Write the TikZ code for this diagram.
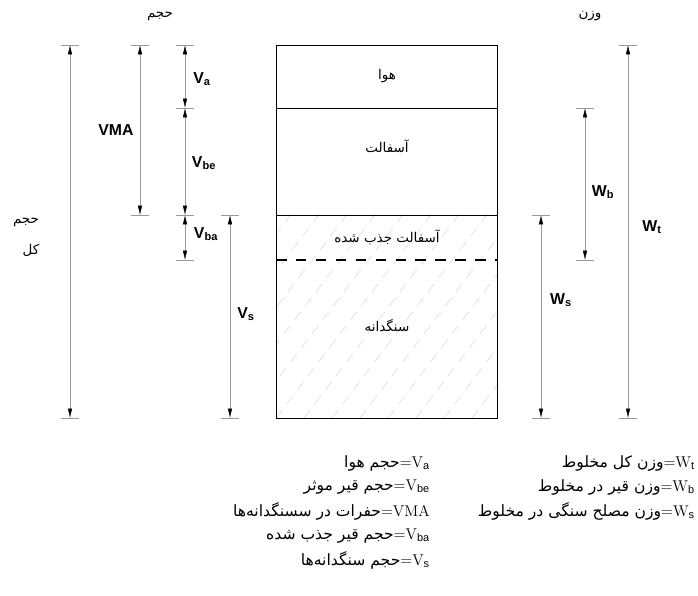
\documentclass[tikz,border=0pt]{standalone}
\usepackage{fontspec}
\newfontfamily\farsi[Script=Arabic]{DejaVu Sans}
\newfontfamily\labfont{Liberation Sans}
\TeXXeTstate=1
\usetikzlibrary{arrows.meta,calc}

\begin{document}
\begin{tikzpicture}[
		x=0.03cm, y=-0.03cm,
		dim/.style={
			draw=gray!80,
			thin,
			{Latex[black,length=8pt,width=3.8pt]}-{Latex[black,length=8pt,width=3.8pt]}
		},
		tick/.style={draw=gray!80, thin},
		lbl/.style={font=\labfont\bfseries\fontsize{13.5}{15}\selectfont, inner sep=1pt},
		fa/.style={font=\farsi\fontsize{11.5}{13}\selectfont, inner sep=1pt},
		legend/.style={font=\fontsize{13.3}{15}\selectfont, anchor=east, inner sep=0pt},
		hatch/.style={draw=gray!35, thin, dash pattern=on 9pt off 6pt}
		]
		
		\useasboundingbox (0,0) rectangle (698,596);
		
		% Layer levels of the sample
		\coordinate (tl) at (276,45);
		\coordinate (tr) at (497,45);
		\coordinate (al) at (276,108);
		\coordinate (ar) at (497,108);
		\coordinate (bl) at (276,215);
		\coordinate (br) at (497,215);
		\coordinate (dl) at (276,260);
		\coordinate (dr) at (497,260);
		\coordinate (sl) at (276,418);
		\coordinate (sr) at (497,418);
		
		% Hatching of the aggregate
		\begin{scope}
			\clip (bl) rectangle (sr);
			\foreach \i in {-200,-172,...,500}
			\draw[hatch] (\i,418) -- ++(160,-210);
		\end{scope}
		
		% Sample box
		\draw[thick] (tl) rectangle (sr);
		\draw (al) -- (ar);
		\draw (bl) -- (br);
		\draw[line width=1.3pt, dash pattern=on 9pt off 8pt] (dl) -- (dr);
		
		\node[fa] (air) at (387,76) {\beginR هوا\endR};
		\node[fa] (bit) at (387,146) {\beginR آسفالت\endR};
		\node[fa] (abs) at (387,237) {\beginR آسفالت جذب شده\endR};
		\node[fa] (agg) at (387,326) {\beginR سنگدانه\endR};
		
		% Volume side
		\coordinate (vt-t) at (70,45);
		\coordinate (vt-b) at (70,418);
		\coordinate (vma-t) at (140,45);
		\coordinate (vma-b) at (140,215);
		\coordinate (va-t) at (185,45);
		\coordinate (va-b) at (185,108);
		\coordinate (vbe-b) at (185,215);
		\coordinate (vba-b) at (185,260);
		\coordinate (vs-t) at (230,215);
		\coordinate (vs-b) at (230,418);
		
		\draw[dim] (vt-t) -- (vt-b);
		\draw[dim] (vma-t) -- (vma-b);
		\draw[dim] (va-t) -- (va-b);
		\draw[dim] (va-b) -- (vbe-b);
		\draw[dim] (vbe-b) -- (vba-b);
		\draw[dim] (vs-t) -- (vs-b);
		
		\node[fa] (vol) at (160,16) {\beginR حجم\endR};
		\node[fa] (vol2) at (26,222) {\beginR حجم\endR};
		\node[fa] (tot) at (31,250) {\beginR کل\endR};
		\node[lbl] (vma) at (116,130) {VMA};
		\node[lbl] (va) at (202,79) {V\textsubscript{a}};
		\node[lbl] (vbe) at (204,163) {V\textsubscript{be}};
		\node[lbl] (vba) at (206,234) {V\textsubscript{ba}};
		\node[lbl] (vs) at (246,314) {V\textsubscript{s}};
		
		% Weight side
		\coordinate (ws-t) at (541,215);
		\coordinate (ws-b) at (541,418);
		\coordinate (wb-t) at (585,108);
		\coordinate (wb-b) at (585,260);
		\coordinate (wt-t) at (628,45);
		\coordinate (wt-b) at (628,418);
		
		\draw[dim] (ws-t) -- (ws-b);
		\draw[dim] (wb-t) -- (wb-b);
		\draw[dim] (wt-t) -- (wt-b);
		
		\node[fa] (wgt) at (590,16) {\beginR وزن\endR};
		\node[lbl] (ws) at (561,300) {W\textsubscript{s}};
		\node[lbl] (wb) at (603,192) {W\textsubscript{b}};
		\node[lbl] (wt) at (652,227) {W\textsubscript{t}};
		
		% Ticks at the ends of the dimension lines
		\foreach \c in {vt-t,vt-b,vma-t,vma-b,va-t,va-b,vbe-b,vba-b,vs-t,vs-b,ws-t,ws-b,wb-t,wb-b,wt-t,wt-b}
		\draw[tick] ($(\c)+(-9,0)$) -- ($(\c)+(9,0)$);
		
		% Legend
		\node[legend] (l1) at (430,463) {{\farsi\beginR حجم هوا\endR}=V\textsubscript{\labfont a}};
		\node[legend] (l2) at (430,487) {{\farsi\beginR حجم قیر موثر\endR}=V\textsubscript{\labfont be}};
		\node[legend] (l3) at (430,511) {{\farsi\beginR حفرات در سسنگدانه‌ها\endR}=VMA};
		\node[legend] (l4) at (430,536) {{\farsi\beginR حجم قیر جذب شده\endR}=V\textsubscript{\labfont ba}};
		\node[legend] (l5) at (430,560) {{\farsi\beginR حجم سنگدانه‌ها\endR}=V\textsubscript{\labfont s}};
		
		\node[legend] (r1) at (695,463) {{\farsi\beginR وزن کل مخلوط\endR}=W\textsubscript{\labfont t}};
		\node[legend] (r2) at (695,487) {{\farsi\beginR وزن قیر در مخلوط\endR}=W\textsubscript{\labfont b}};
		\node[legend] (r3) at (695,511) {{\farsi\beginR وزن مصلح سنگی در مخلوط\endR}=W\textsubscript{\labfont s}};
		
	\end{tikzpicture}
\end{document}
